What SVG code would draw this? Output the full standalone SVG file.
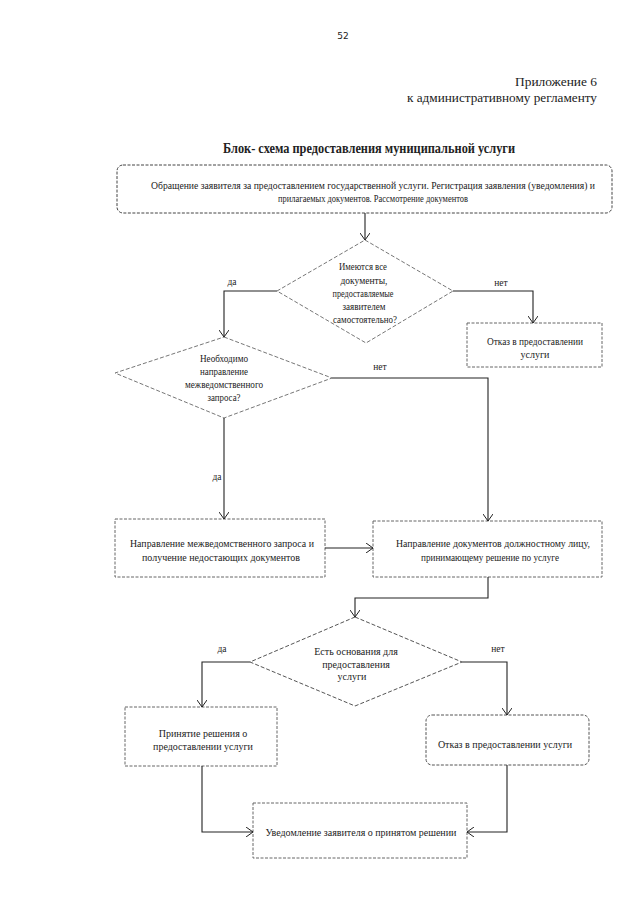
<svg xmlns="http://www.w3.org/2000/svg" width="640" height="905" viewBox="0 0 640 905">
<defs>
<marker id="arr" markerWidth="8" markerHeight="10" refX="7" refY="5" orient="auto" markerUnits="userSpaceOnUse">
<path d="M0,0 L7,5 L0,10" fill="none" stroke="#222" stroke-width="1"/>
</marker>
<style>
text{font-family:"Liberation Serif","Times New Roman",serif;fill:#222}
.t{font-size:10px;text-anchor:middle}
.lbl{font-size:9.5px;text-anchor:middle}
.box{fill:none;stroke:#666;stroke-width:1;stroke-dasharray:3 1.5}
.dia{fill:none;stroke:#777;stroke-width:1;stroke-dasharray:4 2}
.con{fill:none;stroke:#222;stroke-width:1.1}
</style>
</defs>
<rect width="640" height="905" fill="#fff"/>
<text x="343" y="39" style="font-family:'DejaVu Sans',sans-serif;font-size:9px;text-anchor:middle">52</text>
<text x="597" y="86" style="font-size:12.5px;text-anchor:end" textLength="82" lengthAdjust="spacingAndGlyphs">Приложение 6</text>
<text x="597" y="102" style="font-size:12.5px;text-anchor:end" textLength="190" lengthAdjust="spacingAndGlyphs">к административному регламенту</text>
<text x="369" y="153" style="font-size:14px;font-weight:bold;text-anchor:middle" textLength="292" lengthAdjust="spacingAndGlyphs">Блок- схема предоставления муниципальной услуги</text>

<g id="n1">
<rect class="box" x="117" y="165" width="495" height="48" rx="6" style="stroke:#444"/>
<text class="t" x="373" y="189" textLength="444" lengthAdjust="spacingAndGlyphs">Обращение  заявителя за предоставлением  государственной  услуги. Регистрация заявления (уведомления)  и</text>
<text class="t" x="373" y="202" textLength="190" lengthAdjust="spacingAndGlyphs">прилагаемых  документов. Рассмотрение  документов</text>
</g>

<g id="d1">
<polygon class="dia" points="365,240 453,291 366,343 277,291"/>
<text class="t" x="363" y="270" textLength="48" lengthAdjust="spacingAndGlyphs">Имеются  все</text>
<text class="t" x="364" y="284" textLength="47" lengthAdjust="spacingAndGlyphs">документы,</text>
<text class="t" x="363" y="297" textLength="61" lengthAdjust="spacingAndGlyphs">предоставляемые</text>
<text class="t" x="364" y="310" textLength="43" lengthAdjust="spacingAndGlyphs">заявителем</text>
<text class="t" x="365" y="323" textLength="64" lengthAdjust="spacingAndGlyphs">самостоятельно?</text>
</g>

<g id="n2">
<rect class="box" x="467" y="323" width="135" height="44"/>
<text class="t" x="535" y="345" textLength="96" lengthAdjust="spacingAndGlyphs">Отказ  в предоставлении</text>
<text class="t" x="535" y="358">услуги</text>
</g>

<g id="d2">
<polygon class="dia" points="224,337 332,378 224,418 115,373"/>
<text class="t" x="224" y="362" textLength="48" lengthAdjust="spacingAndGlyphs">Необходимо</text>
<text class="t" x="224" y="375" textLength="48" lengthAdjust="spacingAndGlyphs">направление</text>
<text class="t" x="224" y="388" textLength="78" lengthAdjust="spacingAndGlyphs">межведомственного</text>
<text class="t" x="224" y="401" textLength="33" lengthAdjust="spacingAndGlyphs">запроса?</text>
</g>

<g id="n3">
<rect class="box" x="115" y="519" width="210" height="58"/>
<text class="t" x="222" y="547" textLength="184" lengthAdjust="spacingAndGlyphs">Направление  межведомственного   запроса  и</text>
<text class="t" x="221" y="561" textLength="158" lengthAdjust="spacingAndGlyphs">получение  недостающих   документов</text>
</g>

<g id="n4">
<rect class="box" x="373" y="521" width="229" height="56"/>
<text class="t" x="493" y="547" textLength="194" lengthAdjust="spacingAndGlyphs">Направление  документов  должностному  лицу,</text>
<text class="t" x="490" y="561" textLength="138" lengthAdjust="spacingAndGlyphs">принимающему   решение  по услуге</text>
</g>

<g id="d3">
<polygon class="dia" points="355,617 462,662 355,706 250,662" style="stroke:#555"/>
<text class="t" x="356" y="655">Есть основания  для</text>
<text class="t" x="356" y="668">предоставления</text>
<text class="t" x="352" y="680">услуги</text>
</g>

<g id="n5">
<rect class="box" x="125" y="707" width="152" height="59"/>
<text class="t" x="203" y="737">Принятие  решения  о</text>
<text class="t" x="203" y="750">предоставлении   услуги</text>
</g>

<g id="n6">
<rect class="box" x="426" y="715" width="163" height="50" rx="6" style="stroke:#555"/>
<text class="t" x="505" y="748">Отказ  в предоставлении   услуги</text>
</g>

<g id="n7">
<rect class="box" x="253" y="803" width="214" height="55"/>
<text class="t" x="361" y="836">Уведомление  заявителя  о принятом  решении</text>
</g>

<g id="labels">
<text class="lbl" x="232" y="285">да</text>
<text class="lbl" x="501" y="286">нет</text>
<text class="lbl" x="380" y="370">нет</text>
<text class="lbl" x="217" y="480">да</text>
<text class="lbl" x="222" y="652">да</text>
<text class="lbl" x="498" y="652">нет</text>
</g>

<g id="connectors">
<path class="con" d="M365,213 V240" marker-end="url(#arr)"/>
<path class="con" d="M277,291 H224 V337" marker-end="url(#arr)"/>
<path class="con" d="M453,291 H533 V323" marker-end="url(#arr)"/>
<path class="con" d="M332,378 H488 V521" marker-end="url(#arr)"/>
<path class="con" d="M224,418 V519" marker-end="url(#arr)"/>
<path class="con" d="M325,548 H373" marker-end="url(#arr)"/>
<path class="con" d="M488,577 V598 H355 V617" marker-end="url(#arr)"/>
<path class="con" d="M250,662 H202 V707" marker-end="url(#arr)"/>
<path class="con" d="M462,662 H507 V715" marker-end="url(#arr)"/>
<path class="con" d="M202,766 V832 H253" marker-end="url(#arr)"/>
<path class="con" d="M507,765 V832 H467" marker-end="url(#arr)"/>
</g>
</svg>
